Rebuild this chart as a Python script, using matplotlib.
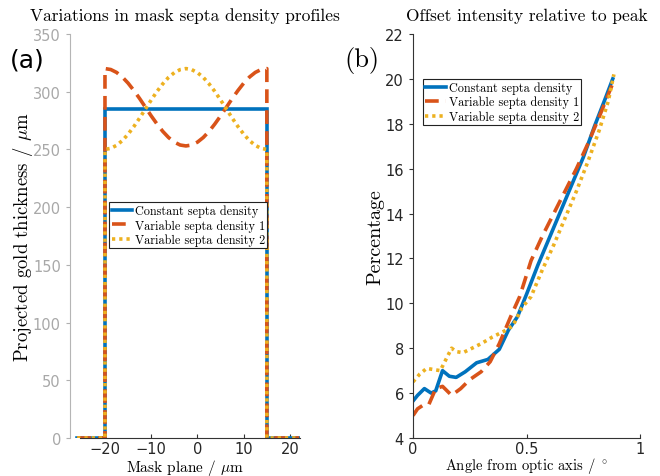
#!/usr/bin/env python3
import matplotlib
matplotlib.use('Agg')
import matplotlib.pyplot as plt

OUTPUTFILE = "out.png"

# panel (a): mask septa thickness profiles (x in um, thickness in um)
prof_x = [-20.0, -18.75, -17.5, -16.25, -15.0, -13.75, -12.5, -11.25, -10.0,
          -8.75, -7.5, -6.25, -5.0, -3.75, -2.5, -1.25, 0.0, 1.25, 2.5,
          3.75, 5.0, 6.25, 7.5, 8.75, 10.0, 11.25, 12.5, 13.75, 15.0]
const_level = 285
var1_prof = [320.0, 319.2, 316.7, 312.7, 307.4, 301.0, 294.0, 286.5, 279.0,
             272.0, 265.6, 260.3, 256.3, 253.8, 253.0, 253.8, 256.3, 260.3,
             265.6, 272.0, 279.0, 286.5, 294.0, 301.0, 307.4, 312.7, 316.7,
             319.2, 320.0]
var2_prof = [250.0, 250.9, 253.5, 257.6, 263.2, 269.8, 277.2, 285.0, 292.8,
             300.2, 306.8, 312.4, 316.5, 319.1, 320.0, 319.1, 316.5, 312.4,
             306.8, 300.2, 292.8, 285.0, 277.2, 269.8, 263.2, 257.6, 253.5,
             250.9, 250.0]
mask_left = -26
mask_right = 22

# panel (b): offset intensity relative to peak (%)
const_ang = [0, 0.02, 0.05, 0.08, 0.1, 0.13, 0.16, 0.19, 0.23, 0.28, 0.33, 0.38,
             0.42, 0.46, 0.5, 0.55, 0.6, 0.65, 0.7, 0.75, 0.8, 0.85, 0.88]
const_pct = [5.65, 5.9, 6.2, 6.0, 6.1, 7.0, 6.75, 6.7, 6.95, 7.35, 7.5, 7.95,
             8.8, 9.4, 10.4, 11.7, 12.9, 14.1, 15.3, 16.5, 17.9, 19.2, 20.0]
var1_ang = [0, 0.02, 0.05, 0.07, 0.1, 0.13, 0.17, 0.21, 0.25, 0.3, 0.34, 0.38,
            0.43, 0.47, 0.52, 0.57, 0.62, 0.67, 0.72, 0.77, 0.82, 0.86, 0.88]
var1_pct = [5.0, 5.3, 5.5, 5.5, 6.2, 6.3, 5.9, 6.2, 6.6, 6.95, 7.4, 8.2,
            9.4, 10.3, 11.9, 13.0, 14.0, 15.0, 16.0, 17.1, 18.3, 19.3, 19.8]
var2_ang = [0, 0.03, 0.06, 0.09, 0.12, 0.15, 0.17, 0.19, 0.22, 0.26, 0.3, 0.35,
            0.4, 0.44, 0.48, 0.52, 0.57, 0.62, 0.67, 0.72, 0.77, 0.82, 0.86, 0.885]
var2_pct = [6.5, 6.85, 7.1, 7.05, 7.0, 7.6, 8.0, 7.85, 7.8, 8.0, 8.2, 8.5,
            8.75, 9.0, 9.8, 10.3, 11.5, 12.6, 13.8, 15.0, 16.3, 17.7, 19.0, 20.2]

labels = ["Constant septa density", "Variable septa density 1",
          "Variable septa density 2"]
colors = ["#0072BD", "#D95319", "#EDB120"]

SERIF = ['cmr10', 'DejaVu Serif']
plt.rcParams['mathtext.fontset'] = 'cm'
plt.rcParams['axes.unicode_minus'] = True


def full_profile(values):
    xs = [mask_left, prof_x[0]] + prof_x + [prof_x[-1], mask_right]
    ys = [0, 0] + values + [0, 0]
    return xs, ys


def make_legend(ax, handles, anchor):
    leg = ax.legend(handles, labels, loc='upper left', bbox_to_anchor=anchor,
                    borderaxespad=0, prop={'family': SERIF, 'size': 8.8},
                    fancybox=False, edgecolor='#222222', framealpha=1,
                    handlelength=1.7, handletextpad=0.2, labelspacing=0.15,
                    borderpad=0.2)
    leg.get_frame().set_linewidth(0.8)
    return leg


def main():
    fig = plt.figure(figsize=(6.6, 4.77), dpi=100)
    axa = fig.add_axes([0.106, 0.0797, 0.3485, 0.847])
    axb = fig.add_axes([0.6258, 0.0797, 0.3439, 0.847])

    # ---- panel (a)
    cx, cy = full_profile([const_level] * len(prof_x))
    v1x, v1y = full_profile(var1_prof)
    v2x, v2y = full_profile(var2_prof)
    la = []
    la += axa.plot(cx, cy, color=colors[0], lw=2.6, solid_joinstyle='miter')
    la += axa.plot(v1x, v1y, color=colors[1], lw=2.6, linestyle=(0, (3.8, 2.0)))
    la += axa.plot(v2x, v2y, color=colors[2], lw=2.6, linestyle=(0, (0.9, 1.1)),
                   dash_capstyle='butt')
    axa.set_xlim(-27.57, 22.16)
    axa.set_ylim(0, 350)
    axa.set_xticks([-20, -10, 0, 10, 20])
    axa.set_yticks(range(0, 351, 50))
    for s in ['top', 'right']:
        axa.spines[s].set_visible(False)
    axa.spines['left'].set_color('#b5b5b5')
    axa.spines['bottom'].set_color('#333333')
    axa.spines['bottom'].set_bounds(-25.3, 22.16)
    axa.tick_params(axis='y', colors='#b0b0b0', labelsize=10.5, length=3,
                    direction='out', labelcolor='#a8a8a8')
    axa.tick_params(axis='x', colors='#333333', labelsize=10.5, length=3,
                    direction='in', labelcolor='#262626', pad=2.5)
    axa.set_xlabel("Mask plane / $\\mu$m", family=SERIF, fontsize=11,
                   labelpad=0.5)
    axa.set_ylabel("Projected gold thickness / $\\mu$m", family=SERIF,
                   fontsize=13.5, labelpad=-1.5)
    axa.set_title("Variations in mask septa density profiles", family=SERIF,
                  fontsize=12.5, pad=10)
    make_legend(axa, la, (0.17, 0.584))

    # ---- panel (b)
    lb = []
    lb += axb.plot(const_ang, const_pct, color=colors[0], lw=2.6)
    lb += axb.plot(var1_ang, var1_pct, color=colors[1], lw=2.6,
                   linestyle=(0, (3.8, 2.0)))
    lb += axb.plot(var2_ang, var2_pct, color=colors[2], lw=2.6,
                   linestyle=(0, (0.9, 1.1)), dash_capstyle='butt')
    axb.set_xlim(0, 1)
    axb.set_ylim(4, 22)
    axb.set_xticks([0, 0.5, 1])
    axb.set_xticklabels(["0", "0.5", "1"])
    axb.set_yticks(range(4, 23, 2))
    for s in ['top', 'right']:
        axb.spines[s].set_visible(False)
    axb.spines['left'].set_color('#333333')
    axb.spines['bottom'].set_color('#333333')
    axb.tick_params(axis='y', colors='#333333', labelsize=10.5, length=3,
                    direction='out', labelcolor='#262626')
    axb.tick_params(axis='x', colors='#333333', labelsize=10.5, length=3,
                    direction='in', labelcolor='#262626', pad=2.5)
    axb.set_xlabel("Angle from optic axis / $^\\circ$", family=SERIF,
                   fontsize=10.5, labelpad=-1)
    axb.set_ylabel("Percentage", family=SERIF, fontsize=14.5, labelpad=0.5)
    axb.set_title("Offset intensity relative to peak", family=SERIF,
                  fontsize=12.5, pad=10)
    make_legend(axb, lb, (0.044, 0.889))

    # panel letters
    fig.text(0.015, 0.874, "(a)", fontsize=18, family='DejaVu Sans',
             va='center', ha='left')
    fig.text(0.522, 0.874, "(b)", fontsize=19, family=SERIF,
             va='center', ha='left')

    plt.savefig(OUTPUTFILE, dpi=100)
    print("Graph created: " + OUTPUTFILE)


if __name__ == "__main__":
    main()
